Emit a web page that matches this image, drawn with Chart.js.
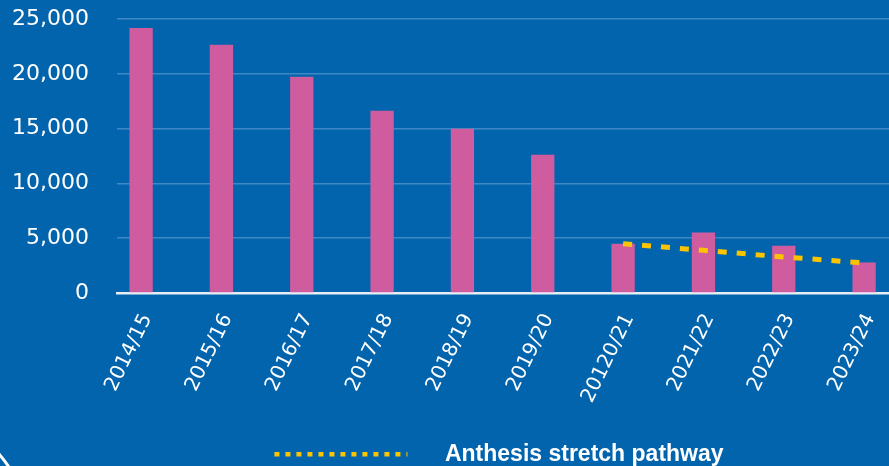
<!DOCTYPE html>
<html>
<head>
<meta charset="utf-8">
<script src="https://cdn.jsdelivr.net/npm/chart.js@4"></script>
<style>
  html, body { margin: 0; padding: 0; background: #0264ad; overflow: hidden; }
</style>
</head>
<body>
<canvas id="chart" width="889" height="466"></canvas>
<script>
const categories = ["2014/15", "2015/16", "2016/17", "2017/18", "2018/19", "2019/20", "20120/21", "2021/22", "2022/23", "2023/24"];
const emissions = [24180, 22650, 19740, 16630, 14990, 12620, 4500, 5530, 4320, 2790];
const pathwayCategories = ["20120/21", "2021/22", "2022/23", "2023/24"];
const pathwayValues = [4500, 3890, 3290, 2740];
const yTicks = [0, 5000, 10000, 15000, 20000, 25000];

const PINK = "#cf5c9e";
const YELLOW = "#fcc400";

// legend symbol: dashed segment, blank room left and right so the label sits where the original has it
const legendSymbol = document.createElement("canvas");
legendSymbol.width = 268;
legendSymbol.height = 6;
(function () {
  const c = legendSymbol.getContext("2d");
  c.fillStyle = YELLOW;
  for (let x = 0; x < 133; x += 11) c.fillRect(109 + x, 0, Math.min(5, 133 - x), 5);
})();

// decorative white arc in the bottom-left corner
const cornerArc = {
  id: "cornerArc",
  afterDraw(chart) {
    const ctx = chart.ctx;
    ctx.save();
    ctx.strokeStyle = "#ffffff";
    ctx.lineWidth = 3;
    ctx.beginPath();
    ctx.moveTo(-1, 454);
    ctx.quadraticCurveTo(4, 460, 9, 467);
    ctx.stroke();
    ctx.restore();
  }
};

new Chart(document.getElementById("chart"), {
  data: {
    datasets: [
      {
        type: "bar",
        label: "Emissions",
        data: emissions.map((v, i) => ({ x: i, y: v })),
        backgroundColor: PINK,
        categoryPercentage: 1,
        barPercentage: 0.29,
        order: 2
      },
      {
        type: "line",
        label: "Anthesis stretch pathway",
        data: pathwayValues.map((v, i) => ({ x: categories.indexOf(pathwayCategories[i]), y: v })),
        borderColor: YELLOW,
        backgroundColor: YELLOW,
        borderWidth: 5,
        borderDash: [9, 10],
        pointRadius: 0,
        tension: 0,
        order: 1
      }
    ]
  },
  options: {
    responsive: false,
    animation: false,
    layout: { padding: { top: 19, right: 0, left: 0, bottom: -10 } },
    scales: {
      x: {
        type: "linear",
        offset: false,
        min: -0.3,
        max: 9.31,
        grid: { display: false, drawTicks: false },
        border: { color: "#e6eef7", width: 2.5 },
        ticks: {
          stepSize: 1,
          includeBounds: false,
          autoSkip: false,
          minRotation: 64,
          maxRotation: 64,
          padding: 17,
          labelOffset: 6,
          color: "#ffffff",
          font: { family: "DejaVu Sans", size: 20 },
          callback: v => categories[v]
        },
        afterFit: s => { s.height = 144; s.paddingLeft = 0; s.paddingRight = 0; }
      },
      y: {
        min: 0,
        max: 25000,
        afterBuildTicks: s => { s.ticks = yTicks.map(v => ({ value: v })); },
        grid: { color: "#3f88c6", lineWidth: 1.5, drawTicks: false },
        border: { display: false },
        ticks: {
          padding: 28,
          color: "#ffffff",
          font: { family: "DejaVu Sans", size: 22 },
          callback: v => v.toLocaleString("en-US")
        },
        afterFit: s => { s.width = 117; s.paddingTop = 0; s.paddingBottom = 0; }
      }
    },
    plugins: {
      tooltip: { enabled: false },
      legend: {
        position: "bottom",
        labels: {
          filter: item => item.datasetIndex === 1,
          color: "#ffffff",
          font: { family: "Liberation Sans", size: 23, weight: "bold" },
          usePointStyle: true,
          pointStyle: legendSymbol,
          pointStyleWidth: 268,
          padding: 6
        }
      }
    }
  },
  plugins: [cornerArc]
});
</script>
</body>
</html>
